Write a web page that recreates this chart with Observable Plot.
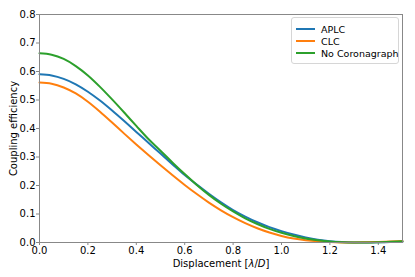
<!DOCTYPE html>
<html><head><meta charset="utf-8">
<script src="https://cdn.jsdelivr.net/npm/d3@7"></script>
<script src="https://cdn.jsdelivr.net/npm/@observablehq/plot@0.6"></script>
<style>
html,body{margin:0;padding:0;background:#fff;}
#wrap{position:relative;width:415px;height:277px;font-family:"DejaVu Sans",sans-serif;}
#legend{position:absolute;left:291px;top:17px;width:108px;height:47px;border:1px solid #d6d6d6;border-radius:3px;background:rgba(255,255,255,0.8);font-size:9.5px;color:#000;box-sizing:border-box;}
#legend .row{position:absolute;left:4px;height:12px;display:flex;align-items:center;white-space:nowrap;}
#legend .sw{width:19px;height:2px;margin-right:6px;flex:none;}
</style></head>
<body><div id="wrap"><div id="chart"></div><div id="legend"></div></div>
<script>
const displacement = [0,0.05,0.1,0.15,0.2,0.25,0.3,0.35,0.4,0.45,0.5,0.55,0.6,0.65,0.7,0.75,0.8,0.85,0.9,0.95,1.0,1.05,1.1,1.15,1.2,1.25,1.3,1.35,1.4,1.45,1.5];
const aplc = [0.590,0.586,0.574,0.555,0.529,0.498,0.463,0.426,0.388,0.350,0.312,0.274,0.237,0.203,0.171,0.141,0.114,0.091,0.071,0.054,0.040,0.028,0.018,0.010,0.0045,0.0015,0.0003,0.0,0.0005,0.0015,0.0025];
const clc = [0.561,0.557,0.544,0.523,0.494,0.459,0.421,0.382,0.344,0.307,0.271,0.236,0.202,0.170,0.140,0.113,0.089,0.068,0.050,0.035,0.023,0.014,0.008,0.004,0.0015,0.0003,0.0,0.0008,0.002,0.0035,0.005];
const noCoro = [0.664,0.659,0.644,0.619,0.586,0.546,0.502,0.456,0.409,0.363,0.322,0.280,0.240,0.202,0.167,0.136,0.109,0.085,0.065,0.048,0.034,0.023,0.014,0.008,0.0035,0.001,0.0001,0.0003,0.0012,0.0025,0.004];
const seriesNames = ["APLC","CLC","No Coronagraph"];
const seriesColors = ["#1f77b4","#ff7f0e","#2ca02c"];
const xTicks = [0,0.2,0.4,0.6,0.8,1.0,1.2,1.4];
const yTicks = [0,0.1,0.2,0.3,0.4,0.5,0.6,0.7,0.8];

const allSeries = [aplc, clc, noCoro];
const rows = [];
allSeries.forEach((vals, i) => vals.forEach((v, j) => rows.push({x: displacement[j], y: v, s: seriesNames[i]})));

const plot = Plot.plot({
  width: 415, height: 277,
  marginLeft: 39, marginRight: 13, marginTop: 14, marginBottom: 35,
  style: {fontFamily: "DejaVu Sans, sans-serif", fontSize: "10px", color: "#000", background: "#fff"},
  x: {domain: [0, 1.5]},
  y: {domain: [0, 0.8]},
  color: {domain: seriesNames, range: seriesColors},
  marks: [
    Plot.axisX({ticks: xTicks, tickFormat: d3.format(".1f"), label: "Displacement [λ/D]", labelAnchor: "center", labelOffset: 24, labelArrow: "none", tickSize: 3, tickPadding: 1, stroke: "#888"}),
    Plot.axisY({ticks: yTicks, tickFormat: d3.format(".1f"), label: "Coupling efficiency", labelAnchor: "center", labelOffset: 30, labelArrow: "none", tickSize: 3, tickPadding: 1, stroke: "#888"}),
    Plot.lineY(rows, {x: "x", y: "y", z: "s", stroke: "s", strokeWidth: 2, curve: "monotone-x"}),
    Plot.frame({stroke: "#888", strokeWidth: 1})
  ]
});
document.getElementById("chart").appendChild(plot);

plot.querySelectorAll("text").forEach(t => {
  if (t.textContent === "Displacement [λ/D]") {
    t.innerHTML = 'Displacement [<tspan font-style="italic">λ</tspan>/<tspan font-style="italic">D</tspan>]';
  }
});

const leg = document.getElementById("legend");
seriesNames.forEach((n, i) => {
  const r = document.createElement("div");
  r.className = "row";
  r.style.top = (5 + i * 12) + "px";
  r.innerHTML = `<span class="sw" style="background:${seriesColors[i]}"></span><span>${n}</span>`;
  leg.appendChild(r);
});
</script></body></html>
